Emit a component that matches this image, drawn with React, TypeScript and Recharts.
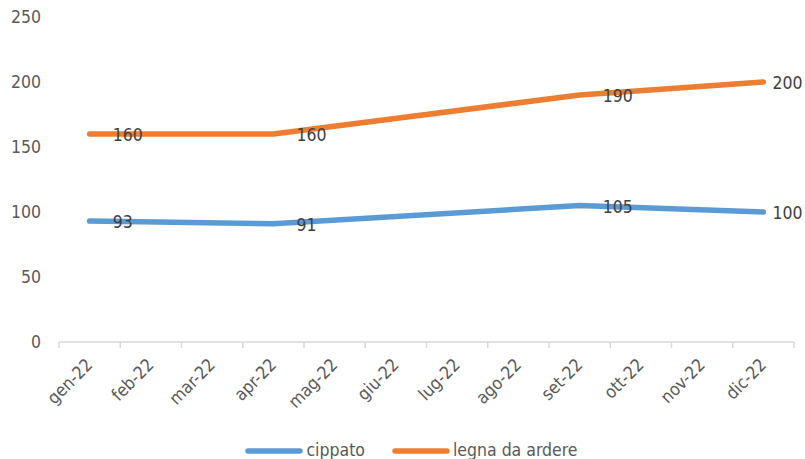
import { LineChart, Line, XAxis, YAxis, Legend, LabelList } from 'recharts';

const months = ['gen-22', 'feb-22', 'mar-22', 'apr-22', 'mag-22', 'giu-22', 'lug-22', 'ago-22', 'set-22', 'ott-22', 'nov-22', 'dic-22'];
const cippato = [93, null, null, 91, null, null, null, null, 105, null, null, 100];
const legna = [160, null, null, 160, null, null, null, null, 190, null, null, 200];
const yTicks = [0, 50, 100, 150, 200, 250];

const data = months.map((m, i) => ({ month: m, cippato: cippato[i], legna: legna[i] }));

const FONT = '"DejaVu Sans Condensed", "DejaVu Sans", sans-serif';
const BLUE = '#5B9BD5';
const ORANGE = '#ED7D31';
const PLOT_LEFT = 59;
const PLOT_RIGHT = 794;
const STEP = (PLOT_RIGHT - PLOT_LEFT) / months.length;

function MonthTick(props: any) {
  const { x, y, payload, index } = props;
  const last = index === months.length - 1;
  return (
    <g>
      <line x1={x - STEP / 2} y1={y} x2={x - STEP / 2} y2={y + 6} stroke="#d9d9d9" strokeWidth={1.5} />
      {last && <line x1={x + STEP / 2} y1={y} x2={x + STEP / 2} y2={y + 6} stroke="#d9d9d9" strokeWidth={1.5} />}
      <text
        x={x + 4}
        y={y + 24}
        textAnchor="end"
        fill="#595959"
        fontSize={17.5}
        fontFamily={FONT}
        transform={`rotate(-45, ${x + 4}, ${y + 24})`}
      >
        {payload.value}
      </text>
    </g>
  );
}

function PointLabel(props: any) {
  const { x, y, value, index } = props;
  if (value == null) return null;
  const dx = index === months.length - 1 ? 9 : 23;
  return (
    <text x={x + dx} y={y + 1} dominantBaseline="central" fill="#404040" fontSize={17.5} fontFamily={FONT}>
      {value}
    </text>
  );
}

function LegendBox() {
  const items = [
    { name: 'cippato', color: BLUE },
    { name: 'legna da ardere', color: ORANGE },
  ];
  return (
    <div style={{ display: 'flex', justifyContent: 'center', height: 21, paddingLeft: 18, fontFamily: FONT, fontSize: 17.5, color: '#595959' }}>
      {items.map((it, i) => (
        <div key={it.name} style={{ display: 'flex', alignItems: 'center', marginLeft: i ? 27 : 0, height: 21 }}>
          <svg width={58} height={10} style={{ marginRight: 3 }}>
            <line x1={3} y1={5} x2={55} y2={5} stroke={it.color} strokeWidth={5.5} strokeLinecap="round" />
          </svg>
          <span style={{ lineHeight: '21px' }}>{it.name}</span>
        </div>
      ))}
    </div>
  );
}

export default function App() {
  return (
    <div style={{ position: 'absolute', left: 0, top: 0, background: '#fff' }}>
      <LineChart width={805} height={459} data={data} margin={{ top: 17, right: 11, left: 0, bottom: 16 }}>
        <XAxis
          dataKey="month"
          interval={0}
          tickLine={false}
          tickSize={0}
          tickMargin={0}
          height={80}
          padding={{ left: STEP / 2, right: STEP / 2 }}
          axisLine={{ stroke: '#d9d9d9', strokeWidth: 1.5 }}
          tick={<MonthTick />}
        />
        <YAxis
          width={59}
          domain={[0, 250]}
          ticks={yTicks}
          interval={0}
          axisLine={false}
          tickLine={false}
          tickSize={0}
          tickMargin={18}
          tick={{ fill: '#595959', fontSize: 17.5, fontFamily: FONT }}
        />
        <Legend verticalAlign="bottom" wrapperStyle={{ top: 440, left: 0, width: 805, height: 21 }} content={() => <LegendBox />} />
        <Line
          type="linear"
          dataKey="cippato"
          name="cippato"
          stroke={BLUE}
          strokeWidth={5.5}
          strokeLinecap="round"
          strokeLinejoin="round"
          dot={false}
          connectNulls
          isAnimationActive={false}
        >
          <LabelList dataKey="cippato" content={<PointLabel />} />
        </Line>
        <Line
          type="linear"
          dataKey="legna"
          name="legna da ardere"
          stroke={ORANGE}
          strokeWidth={5.5}
          strokeLinecap="round"
          strokeLinejoin="round"
          dot={false}
          connectNulls
          isAnimationActive={false}
        >
          <LabelList dataKey="legna" content={<PointLabel />} />
        </Line>
      </LineChart>
    </div>
  );
}
